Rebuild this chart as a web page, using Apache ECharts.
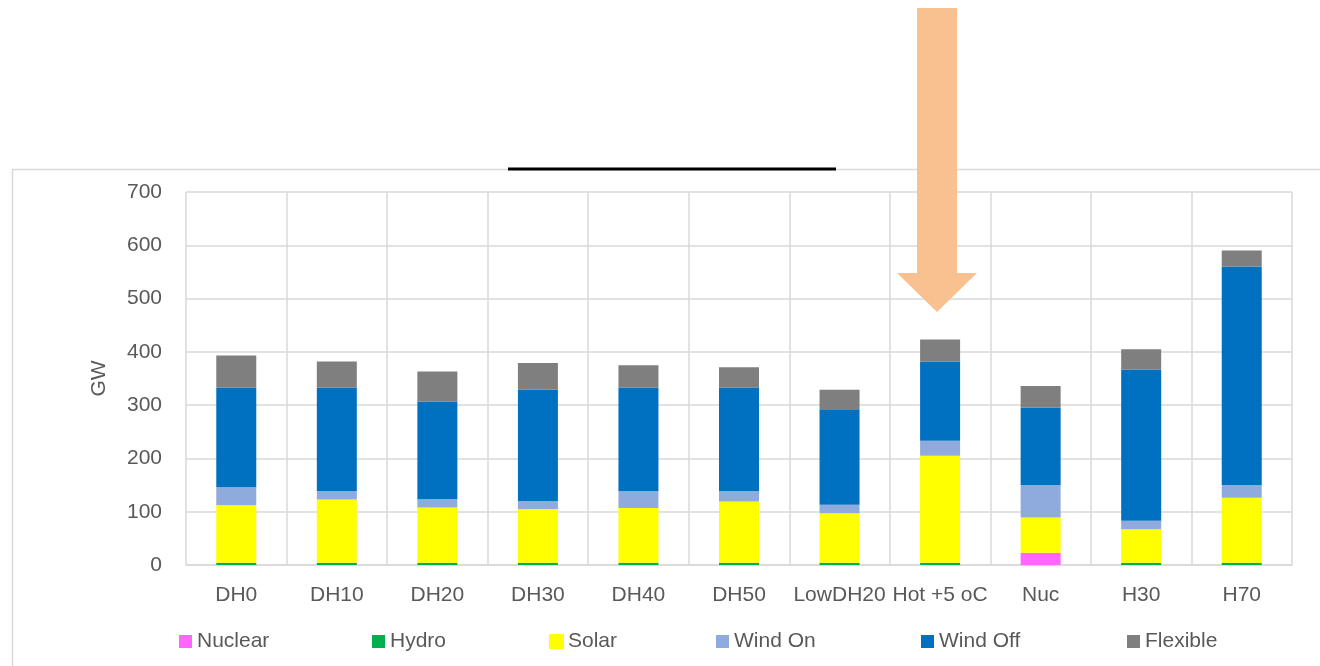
<!DOCTYPE html>
<html>
<head>
<meta charset="utf-8">
<title>Installed capacity by scenario</title>
<script src="https://cdn.jsdelivr.net/npm/echarts@6/dist/echarts.min.js"></script>
<style>
  html, body { margin: 0; padding: 0; background: #ffffff; }
  #chart { width: 1320px; height: 666px; }
</style>
</head>
<body>
<div id="chart"></div>
<script>
// Scenarios on the horizontal axis
const categories = ['DH0', 'DH10', 'DH20', 'DH30', 'DH40', 'DH50', 'LowDH20', 'Hot +5 oC', 'Nuc', 'H30', 'H70'];

// Installed capacity per technology, GW (stacked bottom to top)
const nuclear  = [0, 0, 0, 0, 0, 0, 0, 0, 23, 0, 0];
const hydro    = [4, 4, 4, 4, 4, 4, 4, 4, 0, 4, 4];
const solar    = [108, 119, 104, 101, 103, 115, 93, 201, 66, 63, 122];
const windOn   = [34, 16, 16, 15, 32, 20, 16, 28, 61, 16, 24];
const windOff  = [187, 194, 183, 209, 194, 194, 178, 149, 145, 284, 410];
const flexible = [60, 49, 56, 50, 42, 38, 38, 41, 41, 38, 30];

// Value axis ticks
const yTicks = [0, 100, 200, 300, 400, 500, 600, 700];

const seriesNames = ['Nuclear', 'Hydro', 'Solar', 'Wind On', 'Wind Off', 'Flexible'];
const seriesData = [nuclear, hydro, solar, windOn, windOff, flexible];
const seriesColors = ['#FF66FF', '#00B050', '#FFFF00', '#8FAADC', '#0070C0', '#7F7F7F'];
const legendLeft = [179, 372, 549, 716, 921, 1127];

const FONT = "'Liberation Sans', Arial, sans-serif";
const FONT_SIZE = 21;
const TEXT = '#595959';
const GRID = '#D9D9D9';

const chart = echarts.init(document.getElementById('chart'), null, { renderer: 'canvas' });

const series = seriesNames.map((name, i) => ({
  name,
  type: 'bar',
  stack: 'capacity',
  barWidth: 40,
  data: seriesData[i],
  itemStyle: name === 'Solar'
    ? { color: seriesColors[i], borderColor: seriesColors[i], borderWidth: 2 }
    : { color: seriesColors[i] },
  emphasis: { disabled: true },
  animation: false
}));

const legends = seriesNames.map((name, i) => ({
  data: [name],
  left: legendLeft[i],
  top: 631,
  padding: 0,
  icon: 'rect',
  itemWidth: 13,
  itemHeight: 13,
  selectedMode: false,
  textStyle: { fontFamily: FONT, fontSize: FONT_SIZE, color: TEXT, lineHeight: 21 }
}));

const option = {
  backgroundColor: '#ffffff',
  animation: false,
  textStyle: { fontFamily: FONT },
  grid: { left: 186, right: 28, top: 192, bottom: 101, containLabel: false },
  legend: legends,
  xAxis: {
    type: 'category',
    data: categories,
    boundaryGap: true,
    axisTick: { show: false },
    axisLine: { lineStyle: { color: GRID, width: 1.5 } },
    splitLine: { show: true, interval: 0, lineStyle: { color: GRID, width: 1.5 } },
    axisLabel: { interval: 0, margin: 20, fontFamily: FONT, fontSize: FONT_SIZE, color: TEXT }
  },
  yAxis: {
    type: 'value',
    min: yTicks[0],
    max: yTicks[yTicks.length - 1],
    interval: yTicks[1] - yTicks[0],
    name: 'GW',
    nameLocation: 'middle',
    nameGap: 76,
    nameRotate: 90,
    nameTextStyle: { fontFamily: FONT, fontSize: FONT_SIZE, color: TEXT },
    axisLine: { show: false },
    axisTick: { show: false },
    splitLine: { lineStyle: { color: GRID, width: 1.5 } },
    axisLabel: { margin: 24, fontFamily: FONT, fontSize: FONT_SIZE, color: TEXT }
  },
  graphic: [
    // chart frame (top and left edges)
    { type: 'polyline', z: 1, silent: true,
      shape: { points: [[12.5, 666], [12.5, 169.5], [1320, 169.5]] },
      style: { stroke: GRID, lineWidth: 1.5, fill: null } },
    // title rule
    { type: 'line', z: 10, silent: true,
      shape: { x1: 508, y1: 169, x2: 836, y2: 169 },
      style: { stroke: '#000000', lineWidth: 3 } },
    // callout arrow pointing at the Hot +5 oC bar
    { type: 'polygon', z: 100, silent: true,
      shape: { points: [[917, 8], [957, 8], [957, 273], [977, 273], [937, 312], [897, 273], [917, 273]] },
      style: { fill: '#F8C18F' } }
  ],
  series
};

chart.setOption(option);
</script>
</body>
</html>
